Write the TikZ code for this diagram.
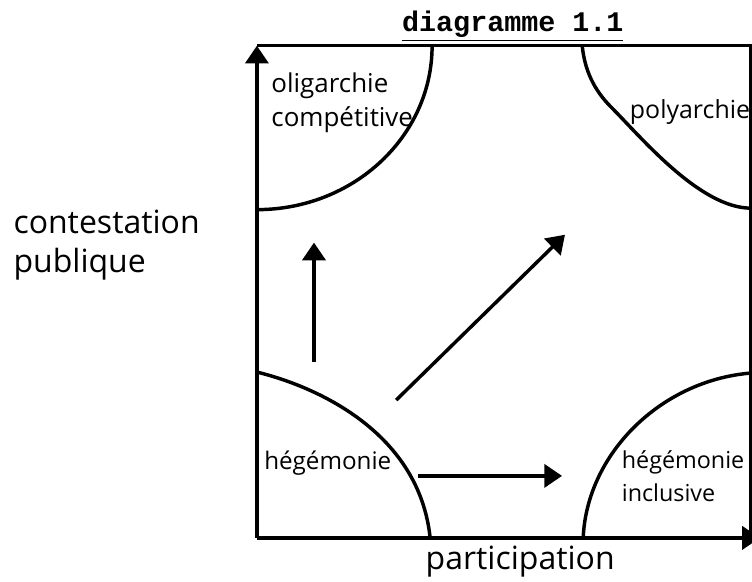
\documentclass[tikz,border=0pt]{standalone}
\usepackage{fontspec}
\newfontfamily\handfont{Open Sans}
\newfontfamily\typefont{Liberation Mono}
\usetikzlibrary{arrows.meta}
\tikzset{
  hand/.style={font=\handfont, inner sep=0pt},
  tip/.style={-{Triangle[length=0.36cm,width=0.47cm]}}
}
\begin{document}
\begin{tikzpicture}[line width=2pt]
            \useasboundingbox (-5.22,-0.89) rectangle (10.06,10.93);
            \coordinate (O) at (0,0);
            \coordinate (yend) at (0,10);
            \coordinate (xend) at (10.22,0);
            \draw[tip] (O) -- (yend);
            \draw[tip] (O) -- (xend);
            \draw (yend) -- (10.06,10);
            \draw (10.04,0) -- (10.04,10);
            \draw (3.56,10) arc[start angle=0, end angle=-90, x radius=3.56, y radius=3.33];
            \draw (6.61,10) .. controls (6.66,9.5) and (6.85,9.1) .. (7.2,8.75) .. controls (7.8,8.15) and (9.0,6.7) .. (10.04,6.7);
            \draw (0,3.37) .. controls (1.3,3.05) and (3.3,2.1) .. (3.52,0);
            \draw (6.63,0) .. controls (6.7,1.7) and (8.2,3.2) .. (10.04,3.35);
            \coordinate (up0) at (1.16,3.58);
            \coordinate (up1) at (1.16,6.0);
            \coordinate (diag0) at (2.83,2.8);
            \coordinate (diag1) at (6.26,6.16);
            \coordinate (right0) at (3.27,1.26);
            \coordinate (right1) at (6.2,1.26);
            \draw[tip] (up0) -- (up1);
            \draw[tip] (diag0) -- (diag1);
            \draw[tip] (right0) -- (right1);
            \node[font=\typefont\bfseries\fontsize{16.4}{17}\selectfont] (title) at (5.2,10.4) {\underline{diagramme 1.1}};
            \node[hand, font=\handfont\fontsize{15}{19.7}\selectfont, align=left, anchor=west] (olig) at (0.26,8.85) {oligarchie\\compétitive};
            \node[hand, font=\handfont\fontsize{14.4}{16}\selectfont] (poly) at (8.8,8.66) {polyarchie};
            \node[hand, font=\handfont\fontsize{18.5}{23}\selectfont, align=left, anchor=west] (contest) at (-4.98,5.95) {contestation\\publique};
            \node[hand, font=\handfont\fontsize{14}{16}\selectfont] (hege) at (1.44,1.52) {hégémonie};
            \node[hand, font=\handfont\fontsize{13.5}{19}\selectfont, align=left, anchor=west] (hegeinc) at (7.38,1.26) {hégémonie\\inclusive};
            \node[hand, font=\handfont\fontsize{18.5}{20}\selectfont] (partic) at (5.35,-0.49) {participation};
\end{tikzpicture}
\end{document}
